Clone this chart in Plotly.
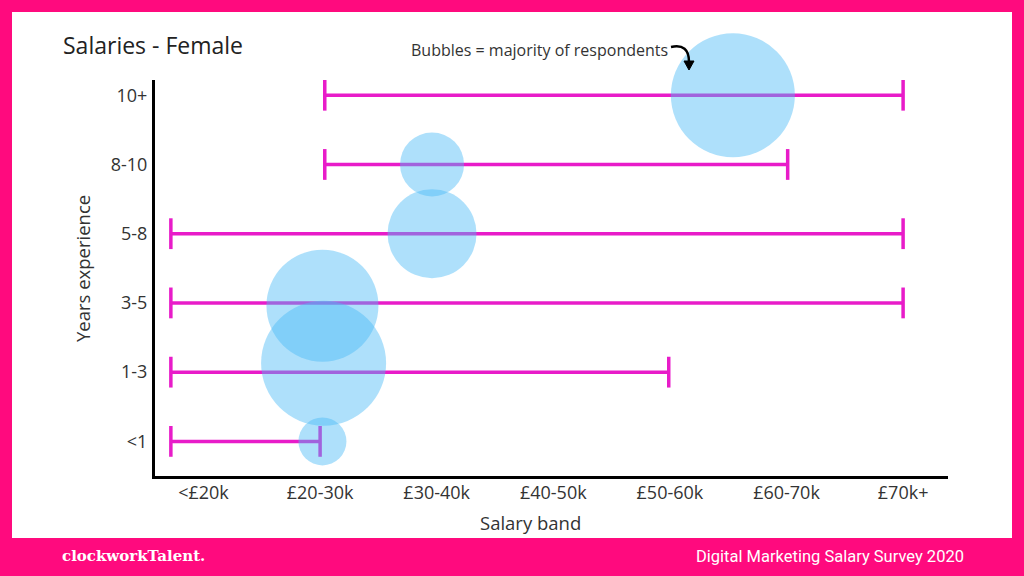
import plotly.graph_objects as go

# salary bands (x) and experience groups (y)
bands = ["<£20k", "£20-30k", "£30-40k", "£40-50k", "£50-60k", "£60-70k", "£70k+"]
experience = ["<1", "1-3", "3-5", "5-8", "8-10", "10+"]

# salary range per experience group, in band units (start just below <£20k)
range_lo = [-0.28, -0.28, -0.28, -0.28, 1.04, 1.04]
range_hi = [1.0, 3.99, 6.0, 6.0, 5.01, 6.0]

# where most respondents sit + bubble size (px diameter)
bubble_x = [1.02, 1.03, 1.02, 1.96, 1.96, 4.54]
bubble_y = [0.0, 1.13, 1.96, 3.0, 4.0, 5.0]
bubble_size = [48, 125, 112, 89, 64, 124]

PINK = "#ff0a7e"
MAGENTA = "#e81cc9"
W, H = 1024, 576
L, R, T, B = 155, 76, 80, 100


def px(x):
    return (x - L) / (W - L - R)


def py(y):
    return (H - B - y) / (H - T - B)


rx, ry = [], []
for i, grp in enumerate(experience):
    rx += [range_lo[i], range_hi[i], None]
    ry += [i, i, None]

fig = go.Figure()

fig.add_trace(go.Scatter(
    x=rx, y=ry, mode="lines+markers",
    line=dict(color=MAGENTA, width=3.5),
    marker=dict(symbol="line-ns", size=22, color=MAGENTA,
                line=dict(color=MAGENTA, width=3.5)),
    hoverinfo="skip", showlegend=False))

fig.add_trace(go.Scatter(
    x=bubble_x, y=bubble_y, mode="markers", cliponaxis=False,
    marker=dict(size=bubble_size, sizemode="diameter", opacity=1,
                color="rgba(75,186,246,0.45)", line=dict(width=0)),
    text=experience, showlegend=False))

fig.update_xaxes(
    range=[-0.416, 6.385], tickvals=list(range(len(bands))), ticktext=bands,
    showline=True, linecolor="black", linewidth=3, showgrid=False, zeroline=False,
    ticks="", ticklabelstandoff=-2,
    tickfont=dict(family="Open Sans", size=18, color="#333"))
fig.update_yaxes(
    range=[-0.5, 5.22], tickvals=list(range(len(experience))), ticktext=experience,
    showline=True, linecolor="black", linewidth=3, showgrid=False, zeroline=False,
    ticks="outside", ticklen=1, tickcolor="rgba(0,0,0,0)",
    tickfont=dict(family="Open Sans", size=18, color="#333"))

shapes = [
    dict(type="rect", xref="paper", yref="paper", x0=px(12), x1=px(1012),
         y0=py(538), y1=py(12), fillcolor="white", line=dict(width=0), layer="below"),
    # curved pointer next to the note
    dict(type="path", xref="paper", yref="paper",
         path=f"M {px(671)},{py(47)} Q {px(689)},{py(43)} {px(689)},{py(62)}",
         line=dict(color="black", width=2.5)),
    dict(type="path", xref="paper", yref="paper",
         path=f"M {px(684)},{py(61)} L {px(694)},{py(61)} L {px(689)},{py(70)} Z",
         fillcolor="black", line=dict(color="black", width=1)),
]

annotations = [
    dict(text="Salaries - Female", x=px(61), y=py(45), xref="paper", yref="paper",
         xanchor="left", yanchor="middle", showarrow=False,
         font=dict(family="Open Sans", size=23, color="#222")),
    dict(text="Bubbles = majority of respondents", x=px(670), y=py(50),
         xref="paper", yref="paper", xanchor="right", yanchor="middle", showarrow=False,
         font=dict(family="Open Sans", size=16, color="#333")),
    dict(text="Salary band", x=px(530), y=py(522), xref="paper", yref="paper",
         xanchor="center", yanchor="middle", showarrow=False,
         font=dict(family="Open Sans", size=18.5, color="#333")),
    dict(text="Years experience", x=px(82), y=py(269), xref="paper", yref="paper",
         xanchor="center", yanchor="middle", showarrow=False, textangle=-90,
         font=dict(family="Open Sans", size=18.5, color="#333")),
    dict(text="<b>clockworkTalent.</b>", x=px(60), y=py(556), xref="paper", yref="paper",
         xanchor="left", yanchor="middle", showarrow=False,
         font=dict(family="DejaVu Serif", size=15, color="white")),
    dict(text="Digital Marketing Salary Survey 2020", x=px(966), y=py(556),
         xref="paper", yref="paper", xanchor="right", yanchor="middle", showarrow=False,
         font=dict(family="Liberation Sans Narrow, Roboto", size=16.5, color="white")),
]

fig.update_layout(
    width=W, height=H, margin=dict(l=L, r=R, t=T, b=B),
    paper_bgcolor=PINK, plot_bgcolor="white",
    shapes=shapes, annotations=annotations, showlegend=False)

fig.write_html("out.html", config={"displayModeBar": False},
               post_script="document.body.style.margin='0';"
                           "document.body.style.overflow='hidden';")
